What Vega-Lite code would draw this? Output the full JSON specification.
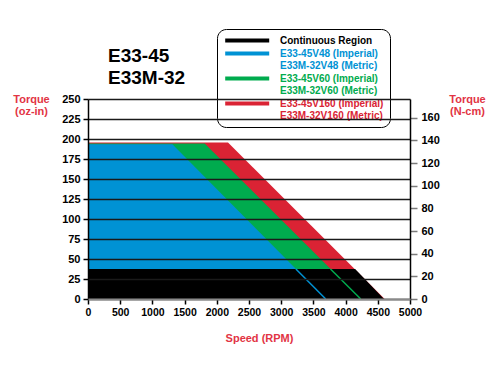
{
  "$schema": "https://vega.github.io/schema/vega-lite/v6.json",
  "autosize": "none",
  "width": 322,
  "height": 200,
  "padding": {"left": 88, "top": 99, "right": 90, "bottom": 76},
  "background": "white",
  "config": {
    "font": "Liberation Sans",
    "view": {"stroke": null},
    "axis": {"labelFont": "Liberation Sans", "titleFont": "Liberation Sans"}
  },
  "title": {
    "text": ["E33-45", "E33M-32"],
    "anchor": "start",
    "frame": "group",
    "fontSize": 19,
    "fontWeight": "bold",
    "color": "#000000",
    "dx": 20,
    "dy": 70,
    "offset": 11,
    "lineHeight": 22
  },
  "datasets": {
    "areas": [
      {"series": "E33-45V160 (Imperial)|E33M-32V160 (Metric)", "rpm": 0, "torque": 195.5},
      {"series": "E33-45V160 (Imperial)|E33M-32V160 (Metric)", "rpm": 2174, "torque": 195.5},
      {"series": "E33-45V160 (Imperial)|E33M-32V160 (Metric)", "rpm": 4607, "torque": 0},
      {"series": "E33-45V60 (Imperial)|E33M-32V60 (Metric)", "rpm": 0, "torque": 194.5},
      {"series": "E33-45V60 (Imperial)|E33M-32V60 (Metric)", "rpm": 1812, "torque": 194.5},
      {"series": "E33-45V60 (Imperial)|E33M-32V60 (Metric)", "rpm": 4235, "torque": 0},
      {"series": "E33-45V48 (Imperial)|E33M-32V48 (Metric)", "rpm": 0, "torque": 193.5},
      {"series": "E33-45V48 (Imperial)|E33M-32V48 (Metric)", "rpm": 1310, "torque": 193.5},
      {"series": "E33-45V48 (Imperial)|E33M-32V48 (Metric)", "rpm": 3691, "torque": 0},
      {"series": "Continuous Region", "rpm": 0, "torque": 37.5},
      {"series": "Continuous Region", "rpm": 4148, "torque": 37.5},
      {"series": "Continuous Region", "rpm": 4596, "torque": 0}
    ],
    "lines": [
      {"series": "E33-45V48 (Imperial)|E33M-32V48 (Metric)", "rpm": 3228, "torque": 37.5},
      {"series": "E33-45V48 (Imperial)|E33M-32V48 (Metric)", "rpm": 3691, "torque": 0},
      {"series": "E33-45V60 (Imperial)|E33M-32V60 (Metric)", "rpm": 3765, "torque": 37.5},
      {"series": "E33-45V60 (Imperial)|E33M-32V60 (Metric)", "rpm": 4235, "torque": 0}
    ],
    "ncm": [{"v": 0}]
  },
  "layer": [
    {
      "encoding": {
        "x": {
          "field": "rpm",
          "type": "quantitative",
          "scale": {"domain": [0, 5000], "nice": false, "zero": true},
          "axis": {
            "values": [0, 500, 1000, 1500, 2000, 2500, 3000, 3500, 4000, 4500, 5000],
            "format": "d",
            "title": "Speed (RPM)",
            "titleColor": "#e23444",
            "titleFontSize": 11,
            "titleFontWeight": "bold",
            "titleX": 171,
            "titleY": 39,
            "titleBaseline": "middle",
            "labelFontSize": 10.5,
            "labelFontWeight": "bold",
            "labelColor": "#000000",
            "labelPadding": 3,
            "labelOverlap": false,
            "labelFlush": false,
            "tickColor": "#000000",
            "tickSize": 5,
            "tickWidth": 1.5,
            "domainColor": "#8a8a8a",
            "domainWidth": 2,
            "grid": false,
            "zindex": 2
          }
        },
        "y": {
          "field": "torque",
          "type": "quantitative",
          "stack": null,
          "scale": {"domain": [0, 250], "nice": false},
          "axis": {
            "values": [0, 25, 50, 75, 100, 125, 150, 175, 200, 225, 250],
            "title": ["Torque", "(oz-in)"],
            "titleColor": "#e23444",
            "titleFontSize": 11,
            "titleFontWeight": "bold",
            "titleAngle": 0,
            "titleAlign": "center",
            "titleBaseline": "middle",
            "titleX": -57,
            "titleY": 0,
            "titleLineHeight": 12,
            "labelFontSize": 11,
            "labelFontWeight": "bold",
            "labelColor": "#000000",
            "labelPadding": 3,
            "labelFlush": false,
            "tickColor": "#000000",
            "tickSize": 5,
            "tickWidth": 1.5,
            "domainColor": "#000000",
            "domainWidth": 1.5,
            "grid": true,
            "gridColor": "#1a1a1a",
            "gridWidth": 1.6,
            "zindex": 1
          }
        },
        "color": {
          "field": "series",
          "type": "nominal",
          "scale": {
            "domain": [
              "Continuous Region",
              "E33-45V48 (Imperial)|E33M-32V48 (Metric)",
              "E33-45V60 (Imperial)|E33M-32V60 (Metric)",
              "E33-45V160 (Imperial)|E33M-32V160 (Metric)"
            ],
            "range": ["#000000", "#0092d4", "#00ab4e", "#da2334"]
          },
          "legend": {
            "orient": "none",
            "legendX": 129,
            "legendY": -70,
            "title": null,
            "symbolType": "M-0.6,-0.35H7.4V0.35H-0.6Z",
            "symbolSize": 121,
            "symbolStrokeWidth": 0,
            "labelFontSize": 10,
            "labelFontWeight": "bold",
            "labelOffset": 46,
            "labelLimit": 0,
            "rowPadding": 2,
            "padding": 6,
            "strokeColor": "#000000",
            "fillColor": "#ffffff",
            "cornerRadius": 9,
            "labelExpr": "split(datum.label, '|')",
            "encode": {
              "symbols": {"update": {"fill": {"scale": "color", "field": "value"}, "strokeWidth": {"value": 0}, "opacity": {"value": 1}}},
              "labels": {"update": {"fill": {"scale": "color", "field": "value"}}}
            }
          }
        }
      },
      "layer": [
        {"data": {"name": "areas"}, "transform": [{"filter": "datum.series == 'E33-45V160 (Imperial)|E33M-32V160 (Metric)'"}], "mark": {"type": "area", "opacity": 1}},
        {"data": {"name": "areas"}, "transform": [{"filter": "datum.series == 'E33-45V60 (Imperial)|E33M-32V60 (Metric)'"}], "mark": {"type": "area", "opacity": 1}},
        {"data": {"name": "areas"}, "transform": [{"filter": "datum.series == 'E33-45V48 (Imperial)|E33M-32V48 (Metric)'"}], "mark": {"type": "area", "opacity": 1}},
        {"data": {"name": "areas"}, "transform": [{"filter": "datum.series == 'Continuous Region'"}], "mark": {"type": "area", "opacity": 1}},
        {"data": {"name": "lines"}, "mark": {"type": "line", "strokeWidth": 1.5}}
      ]
    },
    {
      "data": {"name": "ncm"},
      "mark": {"type": "rule", "opacity": 0},
      "encoding": {
        "y": {
          "field": "v",
          "type": "quantitative",
          "scale": {"domain": [0, 176.54], "nice": false},
          "axis": {
            "orient": "right",
            "values": [0, 20, 40, 60, 80, 100, 120, 140, 160],
            "title": ["Torque", "(N-cm)"],
            "titleColor": "#e23444",
            "titleFontSize": 11,
            "titleFontWeight": "bold",
            "titleAngle": 0,
            "titleAlign": "center",
            "titleBaseline": "middle",
            "titleX": 57,
            "titleY": 0,
            "titleLineHeight": 12,
            "labelFontSize": 11,
            "labelFontWeight": "bold",
            "labelColor": "#000000",
            "labelPadding": 4,
            "labelFlush": false,
            "tickColor": "#7a7a7a",
            "tickSize": 7,
            "tickWidth": 1.5,
            "domainColor": "#000000",
            "domainWidth": 1.5,
            "grid": false,
            "zindex": 1
          }
        }
      }
    }
  ],
  "resolve": {"scale": {"y": "independent"}}
}
